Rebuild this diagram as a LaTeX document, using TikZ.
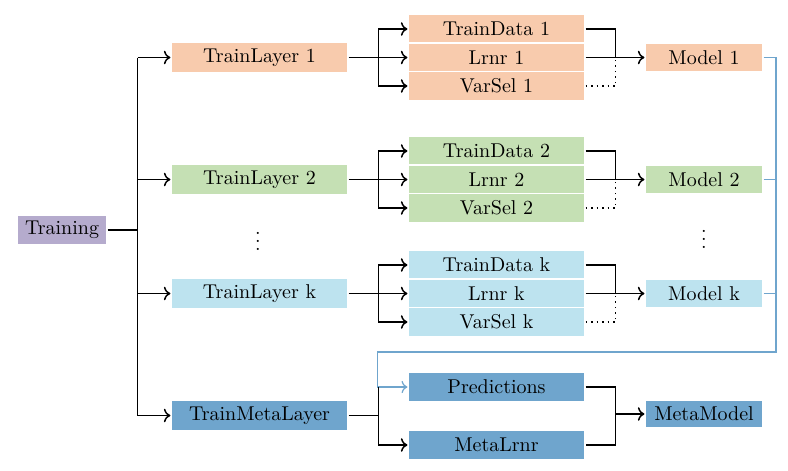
\documentclass[tikz,border=0pt]{standalone}
\usetikzlibrary{arrows.meta}
\definecolor{trainpurple}{RGB}{181,171,205}
\definecolor{layorange}{RGB}{248,203,173}
\definecolor{laygreen}{RGB}{197,224,180}
\definecolor{laycyan}{RGB}{189,227,239}
\definecolor{metablue}{RGB}{111,165,205}
\tikzset{
  blk/.style={draw=white, inner sep=0pt, line width=0.6pt},
  layer/.style={blk, minimum width=88.5pt, minimum height=15.5pt},
  part/.style={blk, minimum width=88.5pt, minimum height=14.5pt},
  mdl/.style={blk, minimum width=59pt, minimum height=14pt},
  conn/.style={line width=0.75pt},
  predline/.style={semithick, metablue}
}
\begin{document}
\begin{tikzpicture}[x=0.5pt,y=0.5pt,yscale=-1,>=To]
\useasboundingbox (0,0) rectangle (788,471);
% left column
\node[blk, fill=trainpurple, minimum width=45pt, minimum height=15pt] (tr) at (62,230) {Training};
\node[layer, fill=layorange] (tl1) at (259.5,57.5) {TrainLayer 1};
\node[layer, fill=laygreen] (tl2) at (259.5,179.5) {TrainLayer 2};
\node[inner sep=0pt] (dl) at (258,235) {$\vdots$};
\node[layer, fill=laycyan] (tlk) at (259.5,293.5) {TrainLayer k};
\node[layer, fill=metablue] (tml) at (259.5,415.5) {TrainMetaLayer};
% middle column
\node[part, fill=layorange] (td1) at (496.5,29) {TrainData 1};
\node[part, fill=layorange] (ln1) at (496.5,57.5) {Lrnr 1};
\node[part, fill=layorange] (vs1) at (496.5,86) {VarSel 1};
\node[part, fill=laygreen] (td2) at (496.5,151) {TrainData 2};
\node[part, fill=laygreen] (ln2) at (496.5,179.5) {Lrnr 2};
\node[part, fill=laygreen] (vs2) at (496.5,208) {VarSel 2};
\node[part, fill=laycyan] (tdk) at (496.5,265) {TrainData k};
\node[part, fill=laycyan] (lnk) at (496.5,293.5) {Lrnr k};
\node[part, fill=laycyan] (vsk) at (496.5,322) {VarSel k};
\node[part, fill=metablue] (pr) at (496.5,387) {Predictions};
\node[part, fill=metablue] (ml) at (496.5,445) {MetaLrnr};
% right column
\node[mdl, fill=layorange] (m1) at (704,57.5) {Model 1};
\node[mdl, fill=laygreen] (m2) at (704,179.5) {Model 2};
\node[inner sep=0pt] (dr) at (704,233) {$\vdots$};
\node[mdl, fill=laycyan] (mk) at (704,293.5) {Model k};
\node[mdl, fill=metablue] (mm) at (704,414) {MetaModel};
\coordinate (bc) at (776,352);
% training to layers
\draw[conn] (tr.east) -- ++(15pt,0) coordinate (s0);
\draw[conn] (s0 |- tl1.west) -- (s0 |- tml.west);
\draw[conn,->] (s0 |- tl1.west) -- (tl1.west);
\draw[conn,->] (s0 |- tl2.west) -- (tl2.west);
\draw[conn,->] (s0 |- tlk.west) -- (tlk.west);
\draw[conn,->] (s0 |- tml.west) -- (tml.west);
% layer 1
\draw[conn] (tl1.east) -- ++(15pt,0) coordinate (s1);
\draw[conn,->] (s1) |- (td1.west);
\draw[conn,->] (s1) -- (ln1.west);
\draw[conn,->] (s1) |- (vs1.west);
\draw[conn] (td1.east) -| ([xshift=15pt]ln1.east);
\draw[conn,->] (ln1.east) -- (m1.west);
\draw[conn,dotted] (vs1.east) -| ([xshift=15pt]ln1.east);
% layer 2
\draw[conn] (tl2.east) -- ++(15pt,0) coordinate (s2);
\draw[conn,->] (s2) |- (td2.west);
\draw[conn,->] (s2) -- (ln2.west);
\draw[conn,->] (s2) |- (vs2.west);
\draw[conn] (td2.east) -| ([xshift=15pt]ln2.east);
\draw[conn,->] (ln2.east) -- (m2.west);
\draw[conn,dotted] (vs2.east) -| ([xshift=15pt]ln2.east);
% layer k
\draw[conn] (tlk.east) -- ++(15pt,0) coordinate (sk);
\draw[conn,->] (sk) |- (tdk.west);
\draw[conn,->] (sk) -- (lnk.west);
\draw[conn,->] (sk) |- (vsk.west);
\draw[conn] (tdk.east) -| ([xshift=15pt]lnk.east);
\draw[conn,->] (lnk.east) -- (mk.west);
\draw[conn,dotted] (vsk.east) -| ([xshift=15pt]lnk.east);
% models to predictions
\draw[predline,->] (m1.east) -| (bc) -| ([xshift=-15pt]pr.west) -- (pr.west);
\draw[predline] (m2.east) -- (m2.east -| bc);
\draw[predline] (mk.east) -- (mk.east -| bc);
% meta layer
\draw[conn] (tml.east) -- ++(15pt,0) coordinate (s4);
\draw[conn] (s4) -- (s4 |- pr.west);
\draw[conn,->] (s4) |- (ml.west);
\draw[conn] (pr.east) -- ++(15pt,0) |- (ml.east);
\draw[conn,->] ([xshift=15pt]pr.east |- mm.west) -- (mm.west);
\end{tikzpicture}
\end{document}
